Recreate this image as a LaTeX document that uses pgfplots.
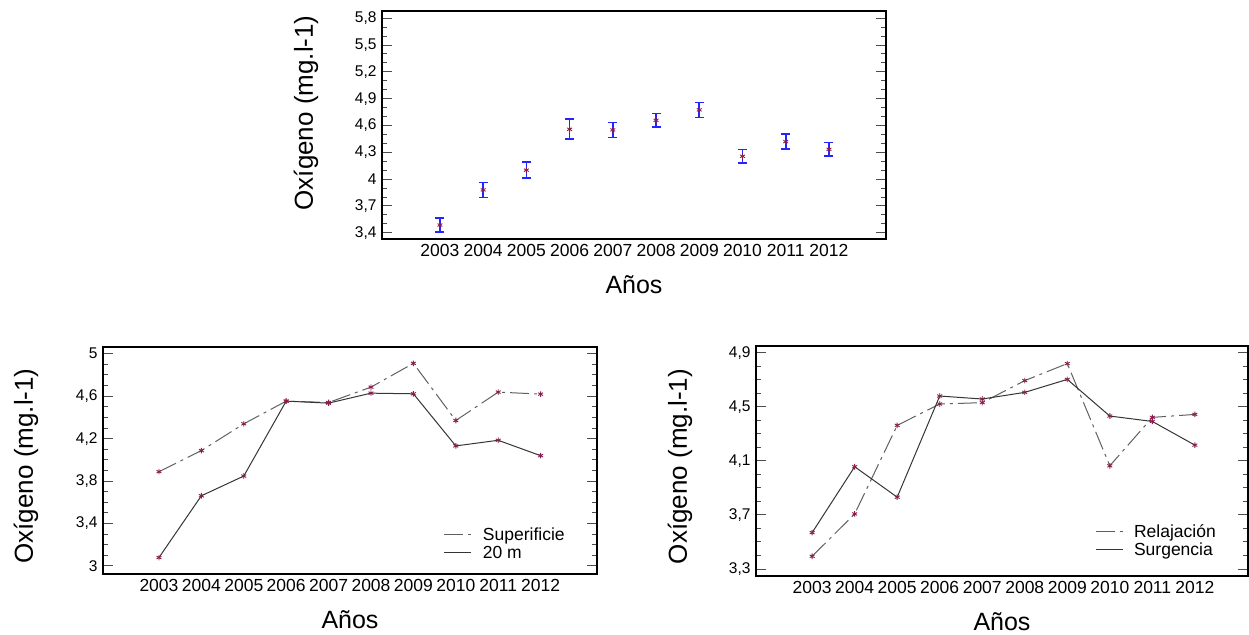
\documentclass[border=0pt]{standalone}
\usepackage{fontspec}
\setmainfont{Liberation Sans}
\usepackage{pgfplots}
\usepackage{pgfplotstable}
\pgfplotsset{compat=1.18}
\definecolor{mk}{HTML}{8A1D4C}
\definecolor{eb}{HTML}{2424FF}
\definecolor{dashc}{HTML}{606060}
\definecolor{solc}{HTML}{353535}

\pgfplotstableread{
x y
0 3.486
1 3.879
2 4.100
3 4.557
4 4.550
5 4.658
6 4.774
7 4.255
8 4.419
9 4.333
}\topdata

% error bar ends (lower, upper) per year; nan rows break the line
\pgfplotstableread{
x y
0 3.407
0 3.565
0 nan
1 3.796
1 3.962
1 nan
2 4.010
2 4.190
2 nan
3 4.445
3 4.669
3 nan
4 4.467
4 4.633
4 nan
5 4.581
5 4.735
5 nan
6 4.690
6 4.858
6 nan
7 4.177
7 4.333
7 nan
8 4.335
8 4.503
8 nan
9 4.256
9 4.410
}\topbars

\pgfplotstableread{
x sup m20
0 3.888 3.079
1 4.087 3.661
2 4.339 3.847
3 4.553 4.553
4 4.540 4.534
5 4.685 4.628
6 4.909 4.622
7 4.370 4.131
8 4.638 4.184
9 4.619 4.039
}\bldata

\pgfplotstableread{
x rel sur
0 3.394 3.569
1 3.707 4.056
2 4.362 3.831
3 4.520 4.579
4 4.530 4.557
5 4.693 4.606
6 4.819 4.702
7 4.063 4.431
8 4.421 4.391
9 4.443 4.216
}\brdata

\pgfplotsset{
  base/.style={
    scale only axis,
    axis line style={black, line width=1.1pt},
    xtick={0,1,2,3,4,5,6,7,8,9},
    xticklabels={2003,2004,2005,2006,2007,2008,2009,2010,2011,2012},
    x tick style={draw=none},
    ytick pos=both,
    tick align=inside,
    y tick style={gray!60!black, line width=0.9pt},
    major tick length=10pt,
    minor tick length=5pt,
    /pgf/number format/assume math mode=true,
    y tick label style={font=\fontsize{15.5}{18}\selectfont, xshift=-2pt},
    x tick label style={font=\fontsize{17.5}{20}\selectfont, yshift=-2pt},
    every axis x label/.style={at={(rel axis cs:0.5,0)}, yshift=-46pt, anchor=center, font=\fontsize{25}{30}\selectfont},
    ylabel={Oxígeno (mg.l-1)},
    xlabel={Años},
    legend style={draw=none, fill=none, font=\fontsize{17.5}{21}\selectfont, anchor=south east, row sep=0pt},
    legend cell align=left,
    legend image code/.code={\draw[##1] (0pt,0pt) -- (27pt,0pt); \path (36pt,0pt);},
  },
  marks/.style={only marks, mark=asterisk, mark size=2.8pt, mk, mark options={line width=0.9pt}},
  dashline/.style={dashc, line width=1pt, dash pattern=on 19pt off 5pt on 3pt off 5pt, mark=none},
  solline/.style={solc, line width=1pt, mark=none},
}

\begin{document}
\begin{tikzpicture}
\path (0,0) rectangle (1249pt,634pt);

% Top panel
\begin{axis}[base,
  at={(382pt,395pt)}, anchor=south west,
  width=504pt, height=228pt,
  xmin=-1.34, xmax=10.32, ymin=3.33, ymax=5.88,
  ytick={3.4,3.7,4,4.3,4.6,4.9,5.2,5.5,5.8},
  yticklabels={{3,4},{3,7},{4},{4,3},{4,6},{4,9},{5,2},{5,5},{5,8}},
  minor y tick num=2,
  unbounded coords=jump,
  every axis y label/.style={at={(rel axis cs:0,0.553)}, xshift=-76pt, rotate=90, anchor=center, font=\fontsize{26}{30}\selectfont},
]
\addplot[draw=eb, line width=1.7pt, mark=-, mark size=4.5pt,
  mark options={solid, draw=eb, line width=1.6pt}, forget plot]
  table[x=x, y=y] {\topbars};
\addplot[marks] table[x=x, y=y] {\topdata};
\end{axis}

% Bottom-left panel
\begin{axis}[base,
  at={(103pt,60pt)}, anchor=south west,
  width=494pt, height=227pt,
  xmin=-1.32, xmax=10.33, ymin=2.924, ymax=5.063,
  ytick={3,3.4,3.8,4.2,4.6,5},
  yticklabels={{3},{3,4},{3,8},{4,2},{4,6},{5}},
  minor y tick num=3,
  every axis y label/.style={at={(rel axis cs:0,0.476)}, xshift=-77pt, rotate=90, anchor=center, font=\fontsize{26}{30}\selectfont},
  legend style={at={(0.945,0.045)}},
]
\addplot[dashline] table[x=x, y=sup] {\bldata};
\addlegendentry{Superificie}
\addplot[solline] table[x=x, y=m20] {\bldata};
\addlegendentry{20 m}
\addplot[marks, forget plot] table[x=x, y=sup] {\bldata};
\addplot[marks, forget plot] table[x=x, y=m20] {\bldata};
\end{axis}

% Bottom-right panel
\begin{axis}[base,
  at={(756pt,58pt)}, anchor=south west,
  width=492pt, height=230pt,
  xmin=-1.32, xmax=10.25, ymin=3.248, ymax=4.949,
  ytick={3.3,3.7,4.1,4.5,4.9},
  yticklabels={{3,3},{3,7},{4,1},{4,5},{4,9}},
  minor y tick num=3,
  every axis y label/.style={at={(rel axis cs:0,0.476)}, xshift=-76pt, rotate=90, anchor=center, font=\fontsize{26}{30}\selectfont},
  legend style={at={(0.945,0.065)}},
]
\addplot[dashline] table[x=x, y=rel] {\brdata};
\addlegendentry{Relajación}
\addplot[solline] table[x=x, y=sur] {\brdata};
\addlegendentry{Surgencia}
\addplot[marks, forget plot] table[x=x, y=rel] {\brdata};
\addplot[marks, forget plot] table[x=x, y=sur] {\brdata};
\end{axis}

\pgfresetboundingbox
\path[use as bounding box] (0,0) rectangle (1249pt,634pt);
\end{tikzpicture}
\end{document}
